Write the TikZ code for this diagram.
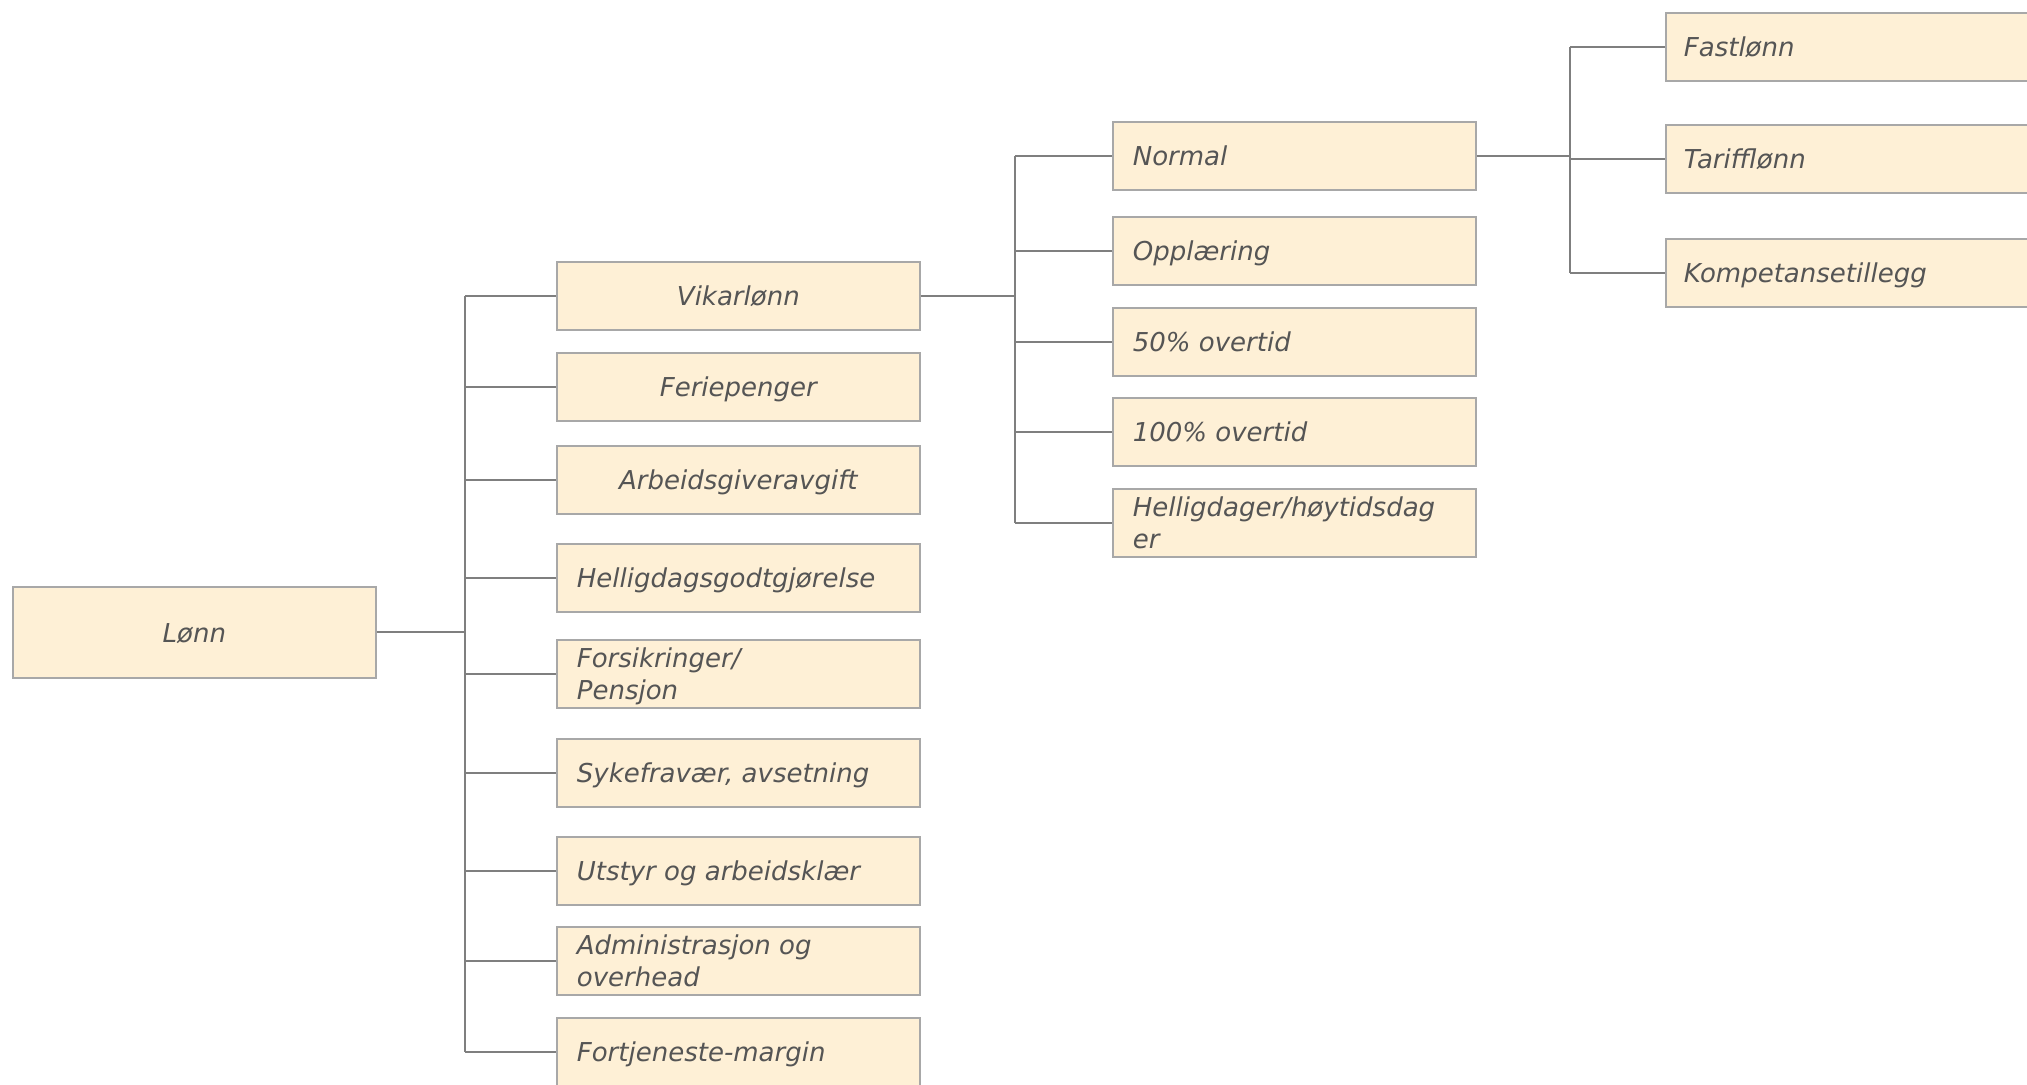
\documentclass[tikz,border=0pt]{standalone}
\usepackage{fontspec}
\setmainfont{DejaVu Sans}
\definecolor{boxfill}{HTML}{FEF0D6}
\definecolor{boxline}{HTML}{A8A8A8}
\definecolor{conn}{HTML}{7F7F7F}
\definecolor{txt}{HTML}{555555}
\newcommand\sx{\rule[-2pt]{0pt}{14pt}}
\tikzset{
  box/.style={draw=boxline, fill=boxfill, line width=0.85pt, text=txt,
    font=\fontsize{13}{16}\selectfont\itshape, minimum height=34pt,
    inner ysep=0pt, anchor=north west},
  lbox/.style={box, text width=161.5pt, inner xsep=10pt, align=flush left},
  cbox/.style={box, text width=161.5pt, inner xsep=10pt, align=center},
  rbox/.style={box, text width=182pt, inner xsep=9pt, align=flush left},
  conline/.style={draw=conn, line width=1pt}
}
\begin{document}
\begin{tikzpicture}[x=0.5pt,y=-0.5pt]
\clip (0,0) rectangle (2027,1084);
\fill[white] (0,0) rectangle (2027,1084);
% root
\node[cbox, minimum height=45.5pt] (lonn) at (12,586) {\sx Lønn};
% level 1
\node[cbox] (vik)  at (556,261) {\sx Vikarlønn};
\node[cbox] (fer)  at (556,352) {\sx Feriepenger};
\node[cbox] (arb)  at (556,445) {\sx Arbeidsgiveravgift};
\node[lbox] (hel)  at (556,543) {\sx Helligdagsgodtgjørelse};
\node[lbox] (for)  at (556,639) {\sx Forsikringer/\\\sx Pensjon};
\node[lbox] (syk)  at (556,738) {\sx Sykefravær, avsetning};
\node[lbox] (uts)  at (556,836) {\sx Utstyr og arbeidsklær};
\node[lbox] (adm)  at (556,926) {\sx Administrasjon og\\\sx overhead};
\node[lbox] (fort) at (556,1017) {\sx Fortjeneste-margin};
% level 2
\node[lbox] (nor) at (1112,121) {\sx Normal};
\node[lbox] (opp) at (1112,216) {\sx Opplæring};
\node[lbox] (p50) at (1112,307) {\sx 50\% overtid};
\node[lbox] (p100) at (1112,397) {\sx 100\% overtid};
\node[lbox] (hdg) at (1112,488) {\sx Helligdager/høytidsdag\\\sx er};
% level 3
\node[rbox] (fast) at (1665,12) {\sx Fastlønn};
\node[rbox] (tar)  at (1665,124) {\sx Tarifflønn};
\node[rbox] (komp) at (1665,238) {\sx Kompetansetillegg};
% junctions
\coordinate (j1) at (465,631);
\coordinate (j2) at (1015,295);
\coordinate (j3) at (1570,155);
% connectors level 1
\draw[conline] (lonn.east) -- (j1 |- lonn.east);
\draw[conline] (j1 |- vik.west) -- (j1 |- fort.west);
\foreach \n in {vik,fer,arb,hel,for,syk,uts,adm,fort}
  \draw[conline] (j1 |- \n.west) -- (\n.west);
% connectors level 2
\draw[conline] (vik.east) -- (j2 |- vik.east);
\draw[conline] (j2 |- nor.west) -- (j2 |- hdg.west);
\foreach \n in {nor,opp,p50,p100,hdg}
  \draw[conline] (j2 |- \n.west) -- (\n.west);
% connectors level 3
\draw[conline] (nor.east) -- (j3 |- nor.east);
\draw[conline] (j3 |- fast.west) -- (j3 |- komp.west);
\foreach \n in {fast,tar,komp}
  \draw[conline] (j3 |- \n.west) -- (\n.west);
\end{tikzpicture}
\end{document}
